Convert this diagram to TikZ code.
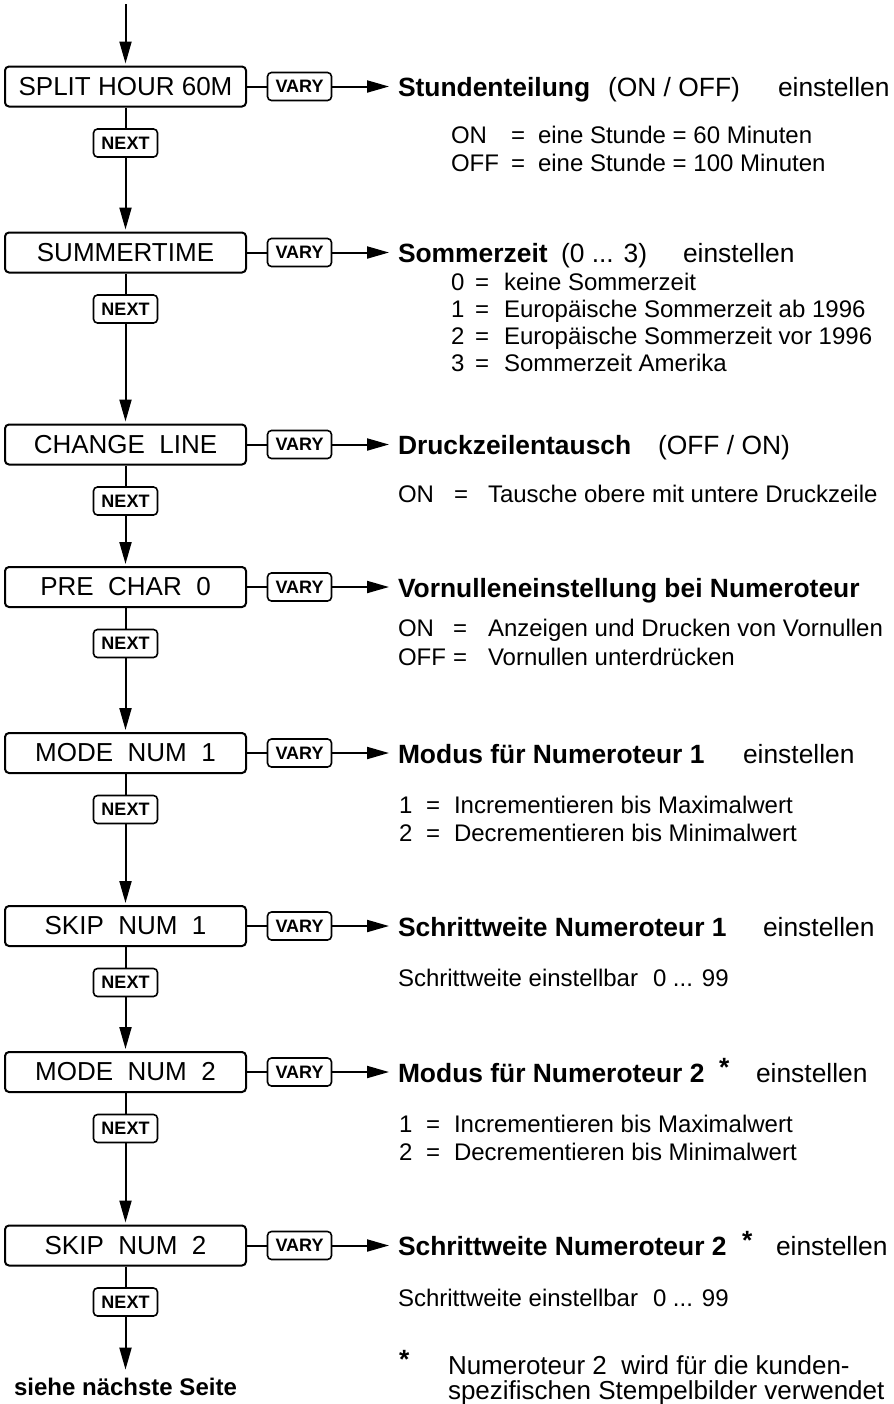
\documentclass[tikz,border=0pt]{standalone}
\usepackage{fontspec}
\setmainfont{Liberation Sans}
\usetikzlibrary{arrows.meta}
\begin{document}
\begin{tikzpicture}[x=0.5pt,y=-0.5pt,
  line width=1pt,
  bigbox/.style={draw,rounded corners=2pt,minimum width=120.5pt,minimum height=20pt,inner sep=0pt,font=\fontsize{13}{15}\selectfont},
  keybox/.style={draw,rounded corners=2pt,line width=0.8pt,minimum width=32pt,minimum height=14pt,inner sep=0pt,font=\bfseries\fontsize{9}{10}\selectfont},
  arr/.style={-{Triangle[length=11pt,width=6pt]},shorten >=1pt},
  ttl/.style={anchor=base west,inner sep=0pt,font=\bfseries\fontsize{13.2}{15}\selectfont},
  ttr/.style={anchor=base west,inner sep=0pt,font=\fontsize{13.2}{15}\selectfont},
  dsc/.style={anchor=base west,inner sep=0pt,font=\fontsize{12}{14}\selectfont},
  fn/.style={anchor=base west,inner sep=0pt,font=\fontsize{13}{15}\selectfont},
]
\useasboundingbox (0,0) rectangle (894,1404);

% main boxes
\node[bigbox] (b1) at (125.5,86.5) {SPLIT HOUR 60M};
\node[bigbox] (b2) at (125.5,252.5) {SUMMERTIME};
\node[bigbox] (b3) at (125.5,444.5) {CHANGE~~LINE};
\node[bigbox] (b4) at (125.5,587) {PRE~~CHAR~~0};
\node[bigbox] (b5) at (125.5,753) {MODE~~NUM~~1};
\node[bigbox] (b6) at (125.5,926) {SKIP~~NUM~~1};
\node[bigbox] (b7) at (125.5,1072) {MODE~~NUM~~2};
\node[bigbox] (b8) at (125.5,1245.5) {SKIP~~NUM~~2};

% NEXT keys
\foreach \i/\y in {1/143,2/309,3/501,4/643.5,5/809.5,6/982.5,7/1128.5,8/1302}
  \node[keybox] (n\i) at (125.5,\y) {NEXT};

% VARY keys and arrow ends
\foreach \i/\y in {1/86.5,2/252.5,3/444.5,4/587,5/753,6/926,7/1072,8/1245.5}{
  \node[keybox] (v\i) at (299.5,\y) {VARY};
  \coordinate (t\i) at (391,\y);
}

% connectors
\coordinate (start) at (125.5,4);
\draw[arr] (start) -- (b1);
\foreach \i in {1,...,8}{
  \draw (b\i) -- (n\i);
  \draw (b\i) -- (v\i);
  \draw[arr] (v\i) -- (t\i);
}
\foreach \i/\j in {1/2,2/3,3/4,4/5,5/6,6/7,7/8}
  \draw[arr] (n\i) -- (b\j);

\node[anchor=base,inner sep=2.5pt,font=\bfseries\fontsize{12}{14}\selectfont] (sns) at (125.5,1395) {siehe nächste Seite};
\draw[arr] (n8) -- (sns);

% block 1
\node[ttl] (h1) at (397,96.5) {Stundenteilung};
\node[ttr] (h1b) at (607,96.5) {(ON / OFF)};
\node[ttr] (h1c) at (777,96.5) {einstellen};
\node[dsc] (d1a) at (450,143) {ON};
\node[dsc] (d1b) at (510,143) {=};
\node[dsc] (d1c) at (537,143) {eine Stunde = 60 Minuten};
\node[dsc] (d1d) at (450,171) {OFF};
\node[dsc] (d1e) at (510,171) {=};
\node[dsc] (d1f) at (537,171) {eine Stunde = 100 Minuten};

% block 2
\node[ttl] (h2) at (397,262.5) {Sommerzeit};
\node[ttr] (h2b) at (560,262.5) {(0 ... 3)};
\node[ttr] (h2c) at (682,262.5) {einstellen};
\foreach \k/\y/\t in {0/290/keine Sommerzeit,1/317/Europäische Sommerzeit ab 1996,2/344/Europäische Sommerzeit vor 1996,3/371/Sommerzeit Amerika}{
  \node[dsc] (s\k a) at (450,\y) {\k};
  \node[dsc] (s\k b) at (474,\y) {=};
  \node[dsc] (s\k c) at (503,\y) {\t};
}

% block 3
\node[ttl] (h3) at (397,454.5) {Druckzeilentausch};
\node[ttr] (h3b) at (657,454.5) {(OFF / ON)};
\node[dsc] (d3a) at (397,502) {ON};
\node[dsc] (d3b) at (453,502) {=};
\node[dsc] (d3c) at (487,502) {Tausche obere mit untere Druckzeile};

% block 4
\node[ttl] (h4) at (397,597) {Vornulleneinstellung bei Numeroteur};
\node[dsc] (d4a) at (397,636) {ON};
\node[dsc] (d4b) at (452,636) {=};
\node[dsc] (d4c) at (487,636) {Anzeigen und Drucken von Vornullen};
\node[dsc] (d4d) at (397,665) {OFF};
\node[dsc] (d4e) at (452,665) {=};
\node[dsc] (d4f) at (487,665) {Vornullen unterdrücken};

% block 5
\node[ttl] (h5) at (397,763) {Modus für Numeroteur 1};
\node[ttr] (h5c) at (742,763) {einstellen};
\node[dsc] (d5a) at (398,813) {1};
\node[dsc] (d5b) at (425,813) {=};
\node[dsc] (d5c) at (453,813) {Incrementieren bis Maximalwert};
\node[dsc] (d5d) at (398,841) {2};
\node[dsc] (d5e) at (425,841) {=};
\node[dsc] (d5f) at (453,841) {Decrementieren bis Minimalwert};

% block 6
\node[ttl] (h6) at (397,936) {Schrittweite Numeroteur 1};
\node[ttr] (h6c) at (762,936) {einstellen};
\node[dsc] (d6a) at (397,986) {Schrittweite einstellbar};
\node[dsc] (d6b) at (652,986) {0 ... 99};

% block 7
\node[ttl] (h7) at (397,1082) {Modus für Numeroteur 2};
\node[ttl] (h7s) at (718,1076) {*};
\node[ttr] (h7c) at (755,1082) {einstellen};
\node[dsc] (d7a) at (398,1132) {1};
\node[dsc] (d7b) at (425,1132) {=};
\node[dsc] (d7c) at (453,1132) {Incrementieren bis Maximalwert};
\node[dsc] (d7d) at (398,1160) {2};
\node[dsc] (d7e) at (425,1160) {=};
\node[dsc] (d7f) at (453,1160) {Decrementieren bis Minimalwert};

% block 8
\node[ttl] (h8) at (397,1255.5) {Schrittweite Numeroteur 2};
\node[ttl] (h8s) at (741,1249.5) {*};
\node[ttr] (h8c) at (775,1255.5) {einstellen};
\node[dsc] (d8a) at (397,1306) {Schrittweite einstellbar};
\node[dsc] (d8b) at (652,1306) {0 ... 99};

% footnote
\node[ttl] (fs) at (398,1368) {*};
\node[fn] (f1) at (447,1374) {Numeroteur 2~~wird für die kunden-};
\node[fn] (f2) at (447,1399) {spezifischen Stempelbilder verwendet};
\end{tikzpicture}
\end{document}
